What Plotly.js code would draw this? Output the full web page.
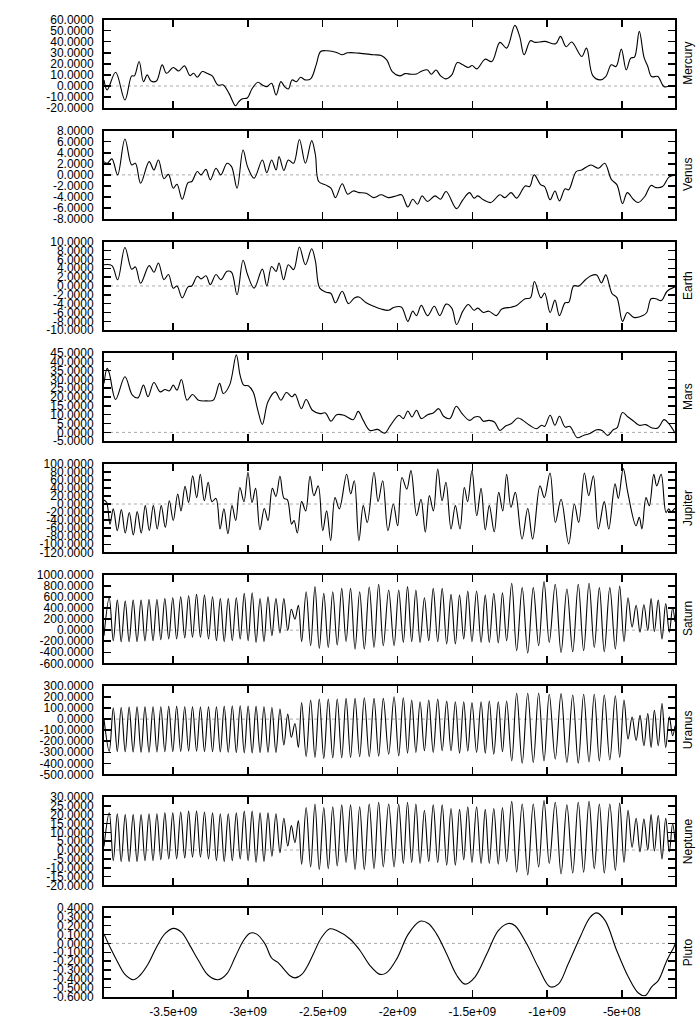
<!DOCTYPE html>
<html><head><meta charset="utf-8">
<script src="https://cdn.plot.ly/plotly-3.0.1.min.js"></script>
<style>html,body{margin:0;padding:0;background:#fff}#chart{width:700px;height:1021px}</style>
</head><body><div id="chart"></div>
<script>
// ---------- data (time in units of 1e9 years) ----------
const planetNames = ["Mercury","Venus","Earth","Mars","Jupiter","Saturn","Uranus","Neptune","Pluto"];

const mercuryTime = [-3.963,-3.942,-3.885,-3.823,-3.778,-3.760,-3.728,-3.699,-3.674,-3.649,-3.612,-3.574,-3.545,-3.5,-3.463,-3.425,-3.388,-3.363,-3.339,-3.306,-3.271,-3.239,-3.202,-3.165,-3.127,-3.083,-3.065,-3.041,-3.003,-2.974,-2.934,-2.904,-2.874,-2.842,-2.812,-2.78,-2.755,-2.73,-2.705,-2.676,-2.648,-2.618,-2.581,-2.544,-2.514,-2.469,-2.407,-2.37,-2.333,-2.258,-2.159,-2.109,-2.072,-2.035,-1.985,-1.948,-1.911,-1.873,-1.836,-1.799,-1.774,-1.742,-1.712,-1.675,-1.637,-1.6,-1.563,-1.526,-1.501,-1.469,-1.414,-1.369,-1.315,-1.27,-1.215,-1.183,-1.153,-1.111,-1.078,-1.016,-0.942,-0.91,-0.872,-0.835,-0.768,-0.736,-0.694,-0.644,-0.607,-0.57,-0.538,-0.503,-0.47,-0.44,-0.415,-0.383,-0.351,-0.326,-0.301,-0.259,-0.217,-0.172,-0.144];
const mercuryValue = [5.5,-3.6,12.4,-12.7,9.1,9.1,22.1,3.9,10,4.5,4.5,19.1,11.5,16.7,13.6,18.2,9.4,11.5,7.9,13,11.2,9.1,0.9,0.9,-6.7,-17.9,-14.8,-11.8,-10.6,-2.7,3.3,0.9,-0.6,2.4,-8.2,3.9,-0.6,-2.7,5.5,3.9,7.9,5.5,6.4,19.1,31.2,31.8,30.3,28.2,30,29.7,28.2,27.6,23.6,13,9.1,11.2,10.6,10.9,13.6,14.5,10.6,14.5,9.1,6.4,10,21.2,19.1,16.7,18.5,15.5,24.2,22.1,39.4,34.2,54.8,44.8,28.2,40.9,39.4,40.3,38.2,44.8,35.5,39.7,26.7,34.2,9.4,5.5,8.5,19.1,17.6,33.3,14.5,25.2,26.1,49.4,25.8,17.6,8.5,8.5,-0.6,0.3,0.3];

const venusTime = [-3.963,-3.942,-3.91,-3.872,-3.823,-3.778,-3.753,-3.718,-3.661,-3.629,-3.599,-3.562,-3.532,-3.5,-3.475,-3.44,-3.401,-3.376,-3.339,-3.314,-3.281,-3.252,-3.214,-3.182,-3.14,-3.11,-3.073,-3.033,-3.003,-2.959,-2.904,-2.874,-2.842,-2.812,-2.792,-2.76,-2.73,-2.695,-2.656,-2.616,-2.574,-2.549,-2.527,-2.482,-2.445,-2.415,-2.37,-2.333,-2.296,-2.258,-2.209,-2.159,-2.11,-2.06,-2.01,-1.973,-1.931,-1.898,-1.866,-1.836,-1.799,-1.749,-1.712,-1.675,-1.605,-1.563,-1.518,-1.488,-1.463,-1.426,-1.376,-1.315,-1.282,-1.24,-1.203,-1.146,-1.116,-1.086,-1.041,-1.016,-0.979,-0.947,-0.917,-0.879,-0.855,-0.805,-0.768,-0.706,-0.656,-0.614,-0.57,-0.532,-0.495,-0.463,-0.42,-0.391,-0.346,-0.304,-0.272,-0.227,-0.185,-0.144];
const venusValue = [2.4,2.1,2.9,0,6.5,1.8,2.1,-1.5,2.4,0.9,2.7,-0.7,0.1,-2.4,-1.7,-4.4,-1.4,-1.2,0.6,0,1,-0.9,1.2,0,2.1,1.5,-2.4,4.5,1.5,-0.6,2.7,0.4,2.7,0.9,3.3,0.8,2.7,2.1,6.4,2.1,6.2,3.6,-1.2,-1.8,-2.4,-4.1,-1.6,-3.5,-2.9,-3.2,-3.3,-4.1,-3.6,-4.1,-3.8,-3.6,-5.8,-4.4,-5.3,-3.8,-4.8,-3.8,-4.4,-3,-6.1,-4.5,-3.2,-4.2,-3.8,-4.5,-5,-3.6,-4.1,-3.2,-4.2,-2,-2.1,0,-1.8,-2.1,-4.5,-2.9,-4.7,-2.5,-2.7,0.6,0.9,1.8,1.2,2.1,-0.8,-1.8,-5.2,-3.2,-4.5,-5,-3.9,-1.9,-2.3,-2.1,-0.4,0];

const earthTime = [-3.963,-3.91,-3.872,-3.823,-3.778,-3.753,-3.718,-3.661,-3.629,-3.599,-3.562,-3.532,-3.5,-3.475,-3.44,-3.401,-3.376,-3.339,-3.314,-3.281,-3.252,-3.214,-3.182,-3.14,-3.11,-3.073,-3.033,-3.003,-2.959,-2.904,-2.874,-2.842,-2.812,-2.792,-2.762,-2.73,-2.695,-2.656,-2.616,-2.574,-2.549,-2.52,-2.477,-2.445,-2.415,-2.37,-2.328,-2.288,-2.258,-2.209,-2.159,-2.11,-2.06,-2.022,-1.973,-1.931,-1.898,-1.873,-1.841,-1.799,-1.754,-1.717,-1.675,-1.637,-1.605,-1.563,-1.526,-1.488,-1.463,-1.426,-1.389,-1.339,-1.302,-1.24,-1.203,-1.146,-1.111,-1.084,-1.041,-1.016,-0.979,-0.947,-0.917,-0.879,-0.855,-0.822,-0.787,-0.743,-0.706,-0.668,-0.636,-0.607,-0.565,-0.532,-0.495,-0.463,-0.42,-0.358,-0.333,-0.304,-0.272,-0.235,-0.197,-0.144];
const earthValue = [4.8,4.6,1.4,8.7,3.8,4.3,0.6,4.6,3.1,5.2,1.4,2.6,-0.5,0,-2.7,-0.2,0,2.2,1.6,2.3,0.3,2.6,1.4,3.3,3.1,-2,5.8,2.6,-0.5,3.8,0,4.4,3.3,5.2,1.4,4.8,3.7,8.8,4.8,8.4,5.6,-0.5,-1.4,-1.7,-3.8,-1.2,-4,-2.7,-2.5,-3.8,-4.6,-5.2,-5.5,-4.8,-4.8,-8,-5.7,-6.7,-4.4,-6.7,-4.6,-6.7,-4.1,-5,-8.7,-5.7,-4.2,-5.5,-5,-6,-5.7,-6.7,-5.2,-4.8,-4.4,-2.9,-2.7,1,-2.7,-1.6,-6,-3.2,-6.7,-3.8,-3.7,0,0,1.4,2.3,2.5,0.7,2.5,-1.7,-2.7,-8,-6,-7.1,-6.7,-6,-2.9,-2.9,-3.3,-1.2,-0.2];

const marsTime = [-3.963,-3.942,-3.927,-3.885,-3.823,-3.773,-3.736,-3.699,-3.669,-3.629,-3.587,-3.555,-3.525,-3.5,-3.475,-3.445,-3.408,-3.371,-3.331,-3.276,-3.232,-3.19,-3.165,-3.123,-3.078,-3.053,-3.028,-2.998,-2.966,-2.934,-2.904,-2.867,-2.817,-2.78,-2.743,-2.705,-2.685,-2.643,-2.611,-2.569,-2.519,-2.482,-2.445,-2.407,-2.358,-2.296,-2.263,-2.229,-2.184,-2.134,-2.085,-2.047,-1.99,-1.961,-1.931,-1.903,-1.873,-1.841,-1.799,-1.761,-1.724,-1.692,-1.65,-1.607,-1.568,-1.518,-1.483,-1.451,-1.426,-1.389,-1.352,-1.315,-1.277,-1.24,-1.195,-1.161,-1.116,-1.071,-1.036,-1.016,-0.979,-0.947,-0.917,-0.879,-0.847,-0.798,-0.756,-0.718,-0.668,-0.631,-0.594,-0.557,-0.532,-0.495,-0.458,-0.42,-0.383,-0.341,-0.296,-0.259,-0.217,-0.185,-0.144];
const marsValue = [27.7,36.2,33.3,18.6,31.4,21,19.5,26.7,20.1,28.2,22.9,24.2,23.5,26.7,23.9,29.9,18.2,21.4,18.2,17.8,18.2,27.7,22,26.7,43.8,32.4,26.7,26.3,22.9,12.5,4.5,17.2,22.9,18.2,22.5,20.1,21.6,13.4,18.6,12.5,10.6,11,6.3,10,9.7,7.2,11.9,6.8,1.1,1.7,-0.4,4,9.7,7.8,12.1,8.7,12.5,7.8,10,11,13.4,9.1,7.8,14.8,10.6,6.8,8.7,8.7,6.3,6.8,5.9,1.1,3.6,4.9,8.1,6.8,4,2.1,4,3.4,9.7,4,9.1,3,3.4,-3,-1.7,-0.8,1.5,1.1,-1.7,1.5,2.5,11.2,8.7,6.3,4,4.4,2.5,2.5,7.2,4.9,-0.4];

const jupiterTime = [-3.963,-3.945,-3.923,-3.901,-3.874,-3.847,-3.821,-3.794,-3.767,-3.741,-3.714,-3.687,-3.660,-3.633,-3.607,-3.580,-3.553,-3.526,-3.500,-3.470,-3.448,-3.421,-3.397,-3.370,-3.343,-3.319,-3.292,-3.266,-3.241,-3.214,-3.187,-3.161,-3.134,-3.107,-3.082,-3.054,-3.027,-3.000,-2.973,-2.949,-2.920,-2.891,-2.866,-2.837,-2.813,-2.786,-2.759,-2.737,-2.708,-2.692,-2.670,-2.641,-2.614,-2.585,-2.559,-2.530,-2.500,-2.474,-2.447,-2.418,-2.389,-2.340,-2.313,-2.289,-2.258,-2.229,-2.202,-2.157,-2.130,-2.099,-2.064,-2.028,-1.999,-1.970,-1.938,-1.910,-1.872,-1.843,-1.814,-1.787,-1.760,-1.731,-1.702,-1.676,-1.642,-1.613,-1.582,-1.553,-1.531,-1.502,-1.470,-1.441,-1.413,-1.386,-1.353,-1.323,-1.296,-1.270,-1.241,-1.212,-1.167,-1.129,-1.096,-1.047,-1.018,-0.980,-0.944,-0.906,-0.855,-0.817,-0.788,-0.750,-0.721,-0.690,-0.657,-0.617,-0.587,-0.545,-0.523,-0.490,-0.460,-0.405,-0.383,-0.365,-0.338,-0.316,-0.286,-0.266,-0.237,-0.204,-0.186,-0.171,-0.144];
const jupiterValue = [10,4,-50,-12,-66,-14,-72,-21,-77,-19,-72,-4,-66,-4,-62,-4,-58,8,-41,25,-17,44,4,70,16,74,8,54,6,14,-62,-12,-74,-4,-41,41,6,79,4,39,-64,-11,-41,39,19,69,14,11,-50,-41,-72,6,-17,69,21,45,-66,-17,-91,16,-12,74,25,58,-91,-4,-46,79,6,58,-66,0,-54,66,37,83,-29,12,-70,21,-17,87,8,54,-62,-4,-62,41,6,83,-29,39,-64,-4,-69,29,-17,74,-8,29,-87,-11,-87,45,16,77,-46,12,-99,0,-46,77,21,70,-62,6,-62,50,14,88,29,-54,-33,-62,16,-4,74,45,74,-21,-12,-19,-10];

// Saturn, Uranus and Neptune share the times of their successive extremes
const outerTime = [
 -3.963,-3.928,-3.901,-3.874,-3.848,-3.821,-3.795,-3.768,-3.742,-3.715,
 -3.689,-3.662,-3.635,-3.609,-3.583,-3.556,-3.530,-3.503,-3.477,-3.450,
 -3.423,-3.397,-3.371,-3.344,-3.318,-3.291,-3.264,-3.237,-3.211,-3.185,
 -3.159,-3.132,-3.105,-3.078,-3.052,-3.025,-2.999,-2.972,-2.946,-2.919,
 -2.893,-2.866,-2.840,-2.813,-2.786,-2.760,-2.734,-2.710,-2.686,-2.663,
 -2.641,-2.611,-2.581,-2.552,-2.523,-2.493,-2.463,-2.433,-2.403,-2.373,
 -2.344,-2.314,-2.284,-2.253,-2.222,-2.189,-2.157,-2.126,-2.095,-2.059,
 -2.023,-1.992,-1.961,-1.933,-1.905,-1.877,-1.849,-1.820,-1.791,-1.761,
 -1.731,-1.701,-1.671,-1.642,-1.613,-1.585,-1.557,-1.530,-1.502,-1.471,
 -1.441,-1.413,-1.386,-1.356,-1.326,-1.298,-1.270,-1.236,-1.203,-1.166,
 -1.129,-1.092,-1.056,-1.020,-0.985,-0.945,-0.906,-0.867,-0.828,-0.791,
 -0.755,-0.719,-0.684,-0.650,-0.617,-0.580,-0.543,-0.514,-0.485,-0.458,
 -0.431,-0.404,-0.378,-0.352,-0.326,-0.304,-0.282,-0.256,-0.231,-0.206,
 -0.182,-0.160,-0.144];
const saturnValue = [
 -100,586,-189,543,-207,525,-207,543,-207,543,
 -195,555,-189,555,-171,573,-159,586,-159,604,
 -140,622,-128,647,-128,634,-159,604,-189,573,
 -207,573,-189,586,-159,665,-189,677,-220,573,
 -207,604,-98,573,-49,573,-6,378,200,451,
 -207,695,-281,787,-329,665,-311,695,-268,756,
 -207,756,-342,695,-342,780,-311,830,-281,726,
 -281,726,-220,787,-207,726,-220,586,-189,756,
 -207,756,-250,647,-250,634,-159,708,-207,708,
 -220,634,-220,665,-232,677,-189,848,-372,769,
 -415,769,-281,878,-220,830,-403,744,-390,830,
 -372,848,-311,769,-390,769,-342,799,-207,586,
 55,451,-37,464,-6,573,-24,543,-159,482,
 -37,400,150];
const uranusValue = [
 0,-290,100,-292,105,-295,108,-298,110,-300,
 110,-300,112,-298,112,-295,115,-295,115,-292,
 112,-290,110,-290,108,-292,110,-295,112,-298,
 115,-300,118,-302,120,-305,118,-305,115,-302,
 112,-300,105,-301,90,-234,45,-164,-40,-256,
 150,-338,172,-347,181,-356,181,-350,181,-350,
 187,-347,187,-340,193,-340,187,-335,187,-317,
 202,-332,193,-308,172,-301,157,-286,172,-301,
 181,-286,163,-286,157,-308,157,-289,150,-301,
 157,-308,163,-317,157,-295,163,-378,233,-399,
 233,-393,233,-378,224,-362,230,-393,218,-399,
 224,-387,224,-378,218,-369,211,-347,172,-179,
 19,-194,34,-240,50,-256,80,-240,141,-256,
 20,-150,-60];
const neptuneValue = [
 2,21,-6,20.5,-6.5,20,-6.5,20,-6.5,20,
 -6,20.5,-6,20.5,-5.5,21,-5,21,-5,21.5,
 -4.5,22,-4,22,-4,21.5,-5,21,-6,20.5,
 -6.5,20.5,-6,21,-5,22,-6,22,-7,21,
 -6.5,21,-3.5,20.5,-1.5,18,2.3,13.8,4.2,16.6,
 -8,24,-9.5,26,-11,24,-10.5,24.5,-9,25.5,
 -7,25.5,-11,24.5,-11,26,-10.5,27,-9.5,26,
 -9.5,26,-7.5,27,-7,26,-7.5,22.5,-6.5,25.5,
 -7,25.5,-8.5,23.5,-8.5,23,-5.5,24.5,-7,24.5,
 -7.5,23,-7.5,23.5,-8,24,-6.5,27.5,-12.5,26,
 -14,26,-9.5,28,-7.5,27,-13.5,25.5,-13,27,
 -12.5,27.5,-10.5,26,-13,26,-11.5,26.5,-7,22.5,
 1.5,18,-1,17.5,0,20,-0.5,19.5,-5,18,
 -1,15,5];

const plutoTime = [-3.963,-3.923,-3.878,-3.823,-3.767,-3.722,-3.667,-3.611,-3.555,-3.5,-3.444,-3.388,-3.332,-3.266,-3.199,-3.142,-3.087,-3.031,-2.987,-2.942,-2.886,-2.842,-2.800,-2.760,-2.719,-2.685,-2.640,-2.600,-2.563,-2.507,-2.452,-2.407,-2.318,-2.251,-2.184,-2.117,-2.072,-2.005,-1.928,-1.849,-1.794,-1.738,-1.671,-1.604,-1.548,-1.482,-1.403,-1.326,-1.259,-1.214,-1.136,-1.058,-0.98,-0.924,-0.858,-0.779,-0.712,-0.668,-0.612,-0.534,-0.456,-0.389,-0.344,-0.3,-0.256,-0.199,-0.151,-0.144];
const plutoValue = [0.107,-0.04,-0.19,-0.35,-0.41,-0.36,-0.23,-0.04,0.11,0.17,0.125,-0.025,-0.19,-0.36,-0.41,-0.345,-0.16,0.03,0.115,0.105,-0.005,-0.165,-0.215,-0.29,-0.365,-0.39,-0.35,-0.25,-0.12,0.07,0.165,0.145,0.05,-0.08,-0.25,-0.35,-0.33,-0.175,0.105,0.25,0.225,0.105,-0.12,-0.36,-0.46,-0.38,-0.12,0.145,0.225,0.2,-0.005,-0.27,-0.49,-0.46,-0.23,0.07,0.295,0.345,0.26,-0.08,-0.38,-0.56,-0.59,-0.49,-0.42,-0.195,-0.04,-0.01];

// tick values / labels
const xTickValues = [-3.5e9,-3e9,-2.5e9,-2e9,-1.5e9,-1e9,-5e8];
const xTickLabels = ["-3.5e+09","-3e+09","-2.5e+09","-2e+09","-1.5e+09","-1e+09","-5e+08"];
const mercuryTicks = [-20,-10,0,10,20,30,40,50,60];
const venusTicks = [-8,-6,-4,-2,0,2,4,6,8];
const earthTicks = [-10,-8,-6,-4,-2,0,2,4,6,8,10];
const marsTicks = [-5,0,5,10,15,20,25,30,35,40,45];
const jupiterTicks = [-120,-100,-80,-60,-40,-20,0,20,40,60,80,100];
const saturnTicks = [-600,-400,-200,0,200,400,600,800,1000];
const uranusTicks = [-500,-400,-300,-200,-100,0,100,200,300];
const neptuneTicks = [-20,-15,-10,-5,0,5,10,15,20,25,30];
const plutoTicks = [-0.6,-0.5,-0.4,-0.3,-0.2,-0.1,0,0.1,0.2,0.3,0.4];

// ---------- build ----------
const series = [
  [mercuryTime, mercuryValue, mercuryTicks],
  [venusTime, venusValue, venusTicks],
  [earthTime, earthValue, earthTicks],
  [marsTime, marsValue, marsTicks],
  [jupiterTime, jupiterValue, jupiterTicks],
  [outerTime, saturnValue, saturnTicks],
  [outerTime, uranusValue, uranusTicks],
  [outerTime, neptuneValue, neptuneTicks],
  [plutoTime, plutoValue, plutoTicks]
];

const W = 700, H = 1021, ML = 104, MR = 25, MT = 19, MB = 24;
const plotH = H - MT - MB;
const firstTop = 19.6, stepPx = 111.05, panelPx = 88.5;
const font = {family: "Liberation Sans, Arial, sans-serif", size: 12, color: "#000"};
const xRange = [-3.963e9, -0.144e9];

const traces = [], shapes = [], annotations = [];
const layout = {
  width: W, height: H,
  margin: {l: ML, r: MR, t: MT, b: MB, pad: 0},
  paper_bgcolor: "#fff", plot_bgcolor: "#fff",
  showlegend: false, font: font
};

series.forEach((s, i) => {
  const n = i + 1, sfx = n === 1 ? "" : String(n);
  const topPx = firstTop + stepPx * i, botPx = topPx + panelPx;
  const d0 = Math.max(0, (H - MB - botPx) / plotH), d1 = Math.min(1, (H - MB - topPx) / plotH);
  const len = Math.min(s[0].length, s[1].length);
  traces.push({
    x: s[0].slice(0, len).map(t => t * 1e9), y: s[1].slice(0, len),
    xaxis: "x" + sfx, yaxis: "y" + sfx, type: "scatter", mode: "lines",
    line: {color: "#000", width: 1.1, shape: "spline", smoothing: 1},
    hoverinfo: "skip"
  });
  const ticks = s[2];
  layout["xaxis" + sfx] = {
    domain: [0, 1], anchor: "y" + sfx, range: xRange,
    tickmode: "array", tickvals: xTickValues, ticktext: xTickLabels,
    showticklabels: n === 9, ticks: "inside", ticklen: 7, tickwidth: 1.5, tickcolor: "#000",
    showline: true, linewidth: 2, linecolor: "#000", mirror: "allticks",
    showgrid: false, zeroline: false, tickfont: font, ticklabelstandoff: 3
  };
  layout["yaxis" + sfx] = {
    domain: [d0, d1], anchor: "x" + sfx, range: [ticks[0], ticks[ticks.length - 1]],
    tickmode: "array", tickvals: ticks, ticktext: ticks.map(v => v.toFixed(4)),
    ticks: "inside", ticklen: 7, tickwidth: 1.5, tickcolor: "#000",
    showline: true, linewidth: 2, linecolor: "#000", mirror: "allticks",
    showgrid: false, zeroline: false, tickfont: font, ticklabelstandoff: 6
  };
  shapes.push({
    type: "line", xref: "x" + sfx + " domain", x0: 0, x1: 1,
    yref: "y" + sfx, y0: 0, y1: 0, layer: "below",
    line: {color: "#aaaaaa", width: 1, dash: "dot"}
  });
  annotations.push({
    text: planetNames[i], xref: "paper", yref: "paper", x: 1, y: (d0 + d1) / 2,
    xanchor: "center", yanchor: "middle", xshift: 13, textangle: -90,
    showarrow: false, font: font
  });
});
layout.shapes = shapes;
layout.annotations = annotations;

Plotly.newPlot("chart", traces, layout, {staticPlot: true, displayModeBar: false});
</script>
</body></html>
